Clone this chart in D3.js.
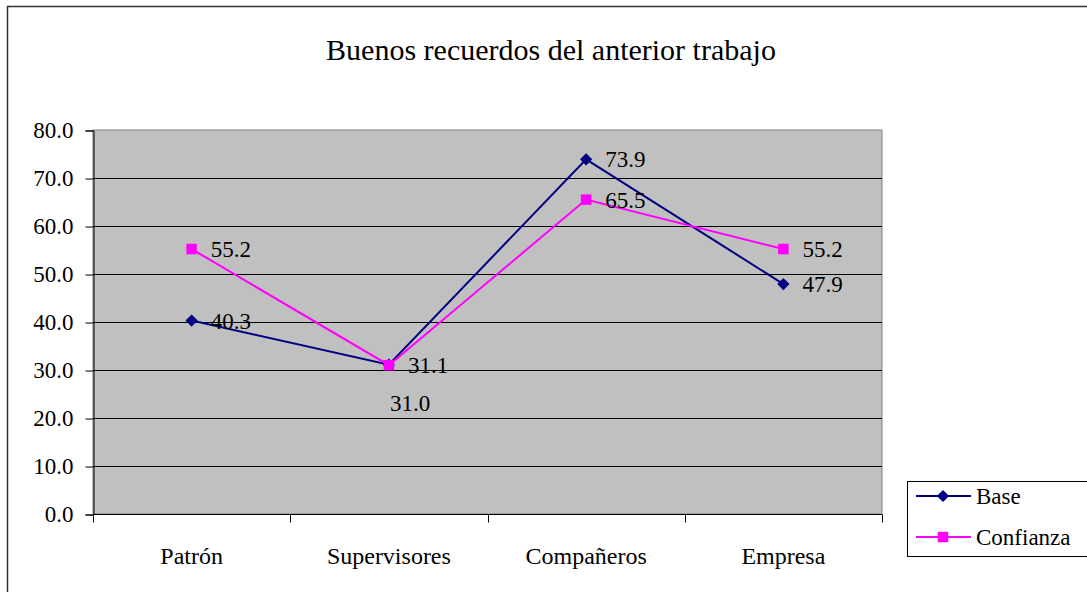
<!DOCTYPE html>
<html>
<head>
<meta charset="utf-8">
<title>Buenos recuerdos del anterior trabajo</title>
<script src="https://d3js.org/d3.v7.min.js"></script>
<style>
	body { margin: 0; background: #fff; }
	svg text { font-family: "Liberation Serif", "Times New Roman", serif; fill: #000; }
</style>
</head>
<body>
<script>
var categories = ["Patrón", "Supervisores", "Compañeros", "Empresa"];
var baseValues = [40.3, 31.1, 73.9, 47.9];
var confianzaValues = [55.2, 31.0, 65.5, 55.2];
var seriesNames = ["Base", "Confianza"];
var yTicks = [0, 10, 20, 30, 40, 50, 60, 70, 80];

var W = 1087, H = 592;
var svg = d3.select("body").append("svg").attr("width", W).attr("height", H);

// outer frame
svg.append("rect").attr("x", 7.5).attr("y", 6.5).attr("width", W + 10).attr("height", H + 10)
	.attr("fill", "#fff").attr("stroke", "#333").attr("stroke-width", 1.5);

var plot = {left: 93, right: 882, top: 130, bottom: 514};

var x = d3.scaleBand().domain(categories).range([plot.left, plot.right]);
var y = d3.scaleLinear().domain([0, 80]).range([plot.bottom, plot.top]);

// plot background
svg.append("rect").attr("x", plot.left).attr("y", plot.top)
	.attr("width", plot.right - plot.left).attr("height", plot.bottom - plot.top)
	.attr("fill", "#c0c0c0").attr("stroke", "#808080").attr("stroke-width", 1);

// gridlines
svg.append("g").selectAll("line").data(yTicks.slice(1, -1)).enter().append("line")
	.attr("x1", plot.left).attr("x2", plot.right)
	.attr("y1", function(d) { return Math.round(y(d)) + 0.5; })
	.attr("y2", function(d) { return Math.round(y(d)) + 0.5; })
	.attr("stroke", "#000").attr("stroke-width", 1);

// y axis
var yAxis = svg.append("g").attr("transform", "translate(" + (plot.left + 0.5) + ",0.5)")
	.call(d3.axisLeft(y).tickValues(yTicks).tickFormat(d3.format(".1f")).tickSize(8).tickPadding(12));
yAxis.attr("font-family", null);
yAxis.select(".domain").attr("stroke", "#000");
yAxis.selectAll("text").style("font-size", "23px");

// x axis with ticks between categories
var xAxis = svg.append("g").attr("transform", "translate(0," + (plot.bottom + 0.5) + ")");
xAxis.append("line").attr("x1", plot.left).attr("x2", plot.right).attr("stroke", "#000");
var bounds = categories.map(function(c) { return x(c); }).concat([plot.right]);
xAxis.selectAll(".tk").data(bounds).enter().append("line")
	.attr("x1", function(d) { return Math.round(d) + 0.5; })
	.attr("x2", function(d) { return Math.round(d) + 0.5; })
	.attr("y1", 0).attr("y2", 8).attr("stroke", "#000");
xAxis.selectAll(".lbl").data(categories).enter().append("text")
	.attr("x", function(d) { return x(d) + x.bandwidth() / 2; })
	.attr("y", 49).attr("text-anchor", "middle").style("font-size", "24px")
	.text(function(d) { return d; });

// title
svg.append("text").attr("x", 551).attr("y", 60).attr("text-anchor", "middle")
	.style("font-size", "30px").text("Buenos recuerdos del anterior trabajo");

var cx = function(i) { return x(categories[i]) + x.bandwidth() / 2; };
var line = d3.line().x(function(d, i) { return cx(i); }).y(function(d) { return y(d); });

var series = [
	{name: seriesNames[0], values: baseValues, color: "#000080", shape: d3.symbolSquare, size: 75, rot: 45},
	{name: seriesNames[1], values: confianzaValues, color: "#ff00ff", shape: d3.symbolSquare, size: 110, rot: 0}
];

series.forEach(function(s) {
	svg.append("path").datum(s.values).attr("d", line)
		.attr("fill", "none").attr("stroke", s.color).attr("stroke-width", 2);
});
series.forEach(function(s) {
	svg.append("g").selectAll("path").data(s.values).enter().append("path")
		.attr("transform", function(d, i) { return "translate(" + cx(i) + "," + y(d) + ") rotate(" + s.rot + ")"; })
		.attr("d", d3.symbol().type(s.shape).size(s.size)).attr("fill", s.color);
});
// data labels
series.forEach(function(s, si) {
	svg.append("g").selectAll("text").data(s.values).enter().append("text")
		.attr("x", function(d, i) { return (si == 1 && i == 1) ? cx(i) + 1 : cx(i) + 19; })
		.attr("y", function(d, i) { return (si == 1 && i == 1) ? y(d) + 46 : y(d) + 8; })
		.style("font-size", "23px")
		.text(function(d) { return d3.format(".1f")(d); });
});

// legend
var lg = svg.append("g");
lg.append("rect").attr("x", 907.5).attr("y", 481.5).attr("width", 200).attr("height", 75)
	.attr("fill", "#fff").attr("stroke", "#000").attr("stroke-width", 1);
series.forEach(function(s, i) {
	var ly = 496 + i * 41;
	lg.append("line").attr("x1", 916).attr("x2", 971).attr("y1", ly).attr("y2", ly)
		.attr("stroke", s.color).attr("stroke-width", 2);
	lg.append("path").attr("transform", "translate(943," + ly + ") rotate(" + s.rot + ")")
		.attr("d", d3.symbol().type(s.shape).size(s.size)).attr("fill", s.color);
	lg.append("text").attr("x", 976).attr("y", ly + 8).style("font-size", "23px").text(s.name);
});
</script>
</body>
</html>
